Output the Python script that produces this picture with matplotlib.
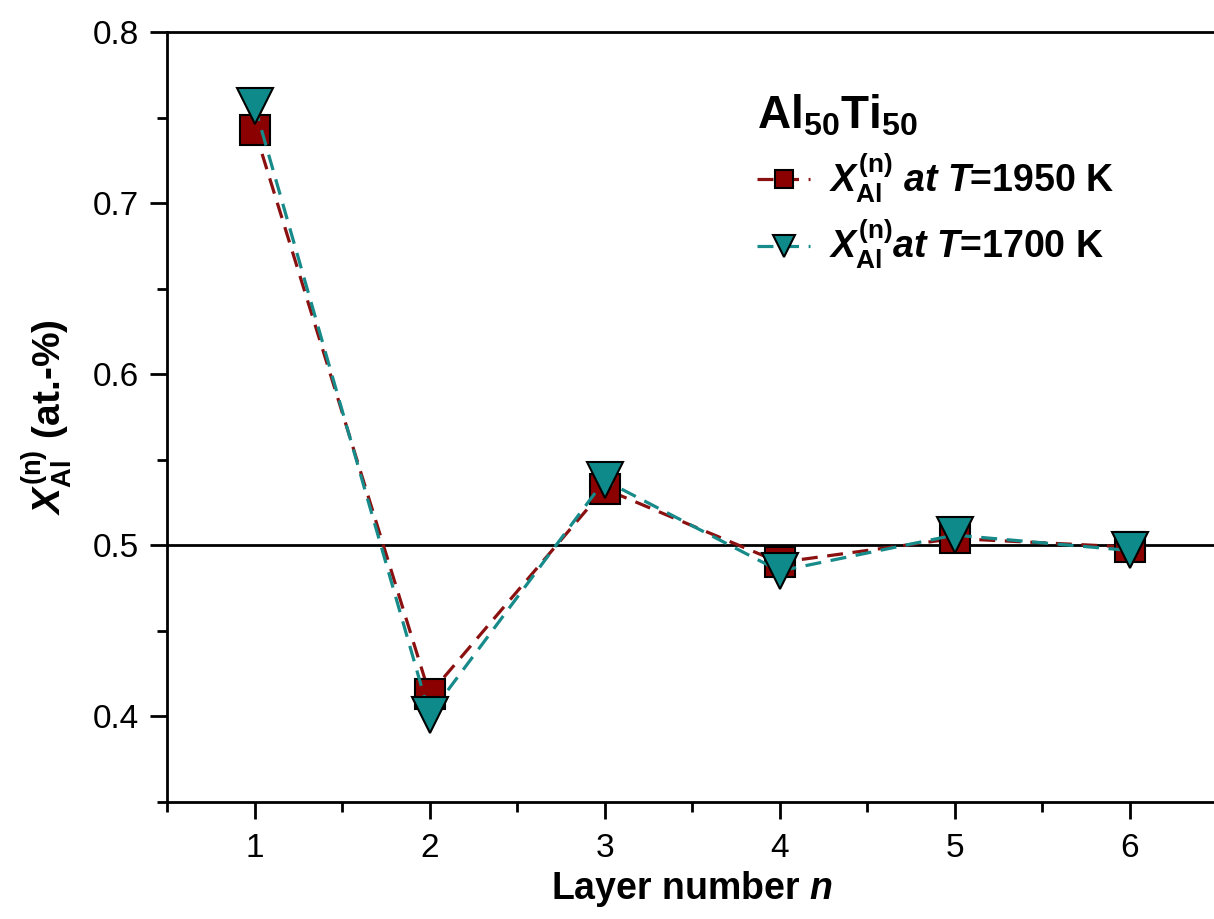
import matplotlib
matplotlib.use('Agg')
import matplotlib.pyplot as plt
from matplotlib.ticker import MultipleLocator

# data
layers = [1, 2, 3, 4, 5, 6]
x_1950 = [0.743, 0.413, 0.533, 0.490, 0.504, 0.499]
x_1700 = [0.757, 0.401, 0.538, 0.485, 0.506, 0.497]

plt.rcParams['font.family'] = ['Liberation Sans', 'DejaVu Sans']
plt.rcParams['mathtext.fontset'] = 'custom'
plt.rcParams['mathtext.rm'] = 'Liberation Sans:bold'
plt.rcParams['mathtext.it'] = 'Liberation Sans:bold:italic'
plt.rcParams['mathtext.bf'] = 'Liberation Sans:bold'

fig = plt.figure(figsize=(12.14, 9.19), dpi=100)
ax = fig.add_axes([0.1376, 0.1273, 1.0025 - 0.1376, 0.9652 - 0.1273])

ax.axhline(0.5, color='black', lw=2, zorder=1)

ax.plot(layers, x_1950, ls='--', dashes=(5, 3), color='#8B1010', lw=2.3,
        marker='s', ms=22, mfc='#8B0000', mec='black', mew=1.5,
        label=r'$X_{\mathrm{Al}}^{(\mathrm{n})}$ $at$ $T$=1950 K', zorder=3)
ax.plot(layers, x_1700, ls='--', dashes=(5, 3), color='#178A8A', lw=2.3,
        marker='v', ms=26, mfc='#0E8A8A', mec='black', mew=1.5,
        label=r'$X_{\mathrm{Al}}^{(\mathrm{n})}at$ $T$=1700 K', zorder=4)

ax.set_xlim(0.5, 6.5)
ax.set_ylim(0.35, 0.8)
ax.xaxis.set_major_locator(MultipleLocator(1))
ax.xaxis.set_minor_locator(MultipleLocator(0.5))
ax.yaxis.set_minor_locator(MultipleLocator(0.05))
ax.set_yticks([0.4, 0.5, 0.6, 0.7, 0.8])
ax.set_yticklabels(['0.4', '0.5', '0.6', '0.7', '0.8'])

for s in ['left', 'bottom', 'top', 'right']:
    ax.spines[s].set_linewidth(2)
ax.tick_params(which='both', direction='out', top=False, right=False, width=2)
ax.tick_params(which='major', length=12, labelsize=24, pad=8)
ax.tick_params(which='minor', length=7)
ax.tick_params(axis='x', which='major', pad=10)

ax.set_xlabel(r'Layer number $n$', fontsize=27, fontweight='bold', labelpad=4)
ax.set_ylabel(r'$X_{\mathrm{Al}}^{(\mathrm{n})}$ (at.-%)', fontsize=28, fontweight='bold',
              labelpad=14)

leg = ax.legend(loc='upper left', bbox_to_anchor=(0.53, 0.965), frameon=False,
                fontsize=27, handlelength=1.4, handletextpad=0.5, markerscale=0.6,
                labelspacing=0.35, title=r'Al$_{\mathbf{50}}$Ti$_{\mathbf{50}}$',
                alignment='left')
leg.get_title().set_fontsize(33)
leg.get_title().set_fontweight('bold')
for t in leg.get_texts():
    t.set_fontweight('bold')

fig.savefig('out.png', dpi=100)
